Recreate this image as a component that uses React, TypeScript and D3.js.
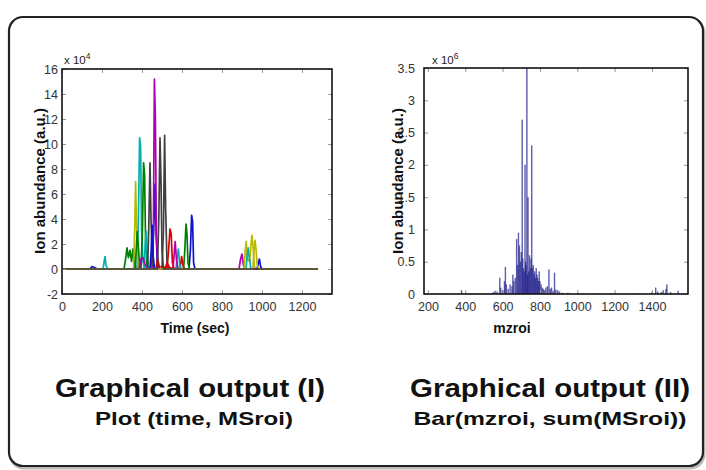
import React, { useEffect, useRef } from 'react'
import * as d3 from 'd3'

// MATLAB default line colour order
const colorOrder = ['#1010d0', '#008000', '#e00000', '#00b0b0', '#b000b0', '#b8b800', '#404040']

// chromatogram traces, [time (sec), abundance x1e4]
const traces: [number, number][][] = [
  [[0,0],[140,0],[150,0.2],[165,0.1],[175,0],[440,0],[452,0.8],[458,3.0],[465,6.8],[470,3.2],[476,0.6],[485,0],[1280,0]],
  [[0,0],[310,0],[318,0.8],[325,1.7],[332,0.9],[340,1.5],[348,0.6],[355,1.6],[362,0.4],[370,0],[1280,0]],
  [[0,0],[525,0],[533,1.5],[540,3.2],[546,2.8],[552,0.5],[560,0],[1280,0]],
  [[0,0],[375,0],[382,4],[388,10.5],[393,9.8],[398,3],[405,0.6],[412,0],[1280,0]],
  [[0,0],[450,0],[457,3],[462,15.2],[467,12],[472,2.5],[480,0.4],[490,0],[1280,0]],
  [[0,0],[358,0],[364,3.5],[368,7.0],[372,3.8],[378,0.5],[385,0],[1280,0]],
  [[0,0],[500,0],[507,3],[513,10.7],[518,5],[525,0.5],[535,0],[1280,0]],
  [[0,0],[635,0],[642,1.5],[648,4.3],[653,3.8],[658,0.5],[665,0],[1280,0]],
  [[0,0],[395,0],[402,3],[408,8.5],[413,7.5],[418,2],[425,0.3],[432,0],[1280,0]],
  [[0,0],[470,0],[478,0.8],[486,0.2],[590,0],[598,1.0],[606,0.2],[615,0],[1280,0]],
  [[0,0],[410,0],[416,2.0],[421,3.0],[426,1.0],[433,0],[570,0],[576,1.0],[582,1.6],[588,0.4],[595,0],[1280,0]],
  [[0,0],[555,0],[561,1.2],[566,2.2],[572,0.8],[580,0],[885,0],[893,0.8],[900,1.2],[907,0.3],[915,0],[1280,0]],
  [[0,0],[910,0],[916,1.4],[921,2.2],[926,0.8],[938,0.6],[945,2.0],[950,2.7],[955,1.8],[962,0.2],[970,0],[1280,0]],
  [[0,0],[428,0],[434,3.5],[440,8.5],[445,4],[452,0.5],[460,0],[1280,0]],
  [[0,0],[440,0],[446,1.5],[451,3.5],[456,1],[463,0],[975,0],[982,0.5],[987,0.8],[993,0.2],[1000,0],[1280,0]],
  [[0,0],[365,0],[371,1.5],[376,3.0],[381,2.0],[388,0.3],[395,0],[608,0],[614,1.5],[620,3.6],[625,2.8],[630,0.5],[637,0],[1280,0]],
  [[0,0],[515,0],[525,0.5],[535,0.2],[545,0],[1280,0]],
  [[0,0],[205,0],[210,0.5],[215,1.0],[220,0.3],[228,0],[920,0],[926,1.0],[931,1.7],[936,0.9],[945,0],[1280,0]],
  [[0,0],[385,0],[395,0.8],[405,0.9],[415,0.4],[425,0],[1280,0]],
  [[0,0],[955,0],[960,1.5],[965,2.3],[970,1.6],[976,0.3],[985,0],[1280,0]],
  [[0,0],[477,0],[484,4],[490,10.5],[495,7],[500,1.5],[507,0],[1280,0]],
]

// summed spectrum, m/z and abundance x1e6
const mzroi = [250,300,380,420,470,520,550,560,570,585,590,600,610,615,620,630,640,650,655,660,668,675,680,685,690,695,700,705,708,712,716,720,723,726,730,733,736,740,744,748,752,756,760,764,768,772,776,780,784,788,792,796,800,806,812,818,825,832,840,848,855,862,870,878,885,895,905,920,950,1000,1100,1200,1300,1400,1420,1430,1450,1460,1475,1480,1500,1540]
const sumMSroi = [0.01,0.01,0.06,0.01,0.01,0.01,0.03,0.05,0.04,0.25,0.1,0.06,0.2,0.42,0.15,0.08,0.15,0.12,0.3,0.2,0.25,0.85,0.45,0.95,0.75,0.5,0.65,2.7,0.55,0.4,0.35,2.0,0.5,0.45,3.5,0.3,1.5,0.35,0.6,0.4,0.55,2.3,0.4,0.45,0.3,0.35,0.25,0.4,0.3,0.25,0.2,0.35,0.2,0.15,0.1,0.08,0.06,0.1,0.12,0.38,0.08,0.1,0.05,0.33,0.07,0.06,0.04,0.02,0.02,0.01,0.01,0.01,0.01,0.03,0.1,0.04,0.03,0.06,0.08,0.15,0.03,0.05]

const timeTicks = [0,200,400,600,800,1000,1200]
const abTicks = [-2,0,2,4,6,8,10,12,14,16]
const mzTicks = [200,400,600,800,1000,1200,1400]
const sumTicks = [0,0.5,1,1.5,2,2.5,3,3.5]

const FONT = '"Liberation Sans", Arial, Helvetica, sans-serif'

const App = () => {
  const svgRef = useRef<SVGSVGElement>(null)

  useEffect(() => {
    const svg = d3.select(svgRef.current)
    svg.selectAll('*').remove()

    // frame
    svg.append('rect')
      .attr('x', 10).attr('y', 19).attr('width', 694).attr('height', 449)
      .attr('rx', 14).attr('fill', 'none').attr('stroke', '#bbb').attr('stroke-width', 3)
    svg.append('rect')
      .attr('x', 9).attr('y', 17).attr('width', 694).attr('height', 449)
      .attr('rx', 14).attr('fill', 'white').attr('stroke', '#222').attr('stroke-width', 2.2)

    const drawAxes = (g: any, x: any, y: any, xt: number[], yt: number[], ypad: number) => {
      const [x0, x1] = x.range()
      const [y0, y1] = y.range()
      const xa = g.append('g').attr('transform', `translate(0,${y0})`)
        .call(d3.axisBottom(x).tickValues(xt).tickSize(-4).tickPadding(8).tickFormat((d: any) => String(d)))
      const ya = g.append('g').attr('transform', `translate(${x0},0)`)
        .call(d3.axisLeft(y).tickValues(yt).tickSize(-4).tickPadding(ypad).tickFormat((d: any) => String(d)))
      // mirrored ticks
      g.append('g').attr('transform', `translate(0,${y1})`)
        .call(d3.axisTop(x).tickValues(xt).tickSize(-4).tickFormat(() => ''))
      g.append('g').attr('transform', `translate(${x1},0)`)
        .call(d3.axisRight(y).tickValues(yt).tickSize(-4).tickFormat(() => ''))
      g.selectAll('.domain').remove()
      g.selectAll('.tick line').attr('stroke', '#999')
      for (const a of [xa, ya]) {
        a.selectAll('text').attr('font-family', FONT).attr('font-size', 12.5).attr('fill', '#333')
      }
      g.append('rect').attr('x', x0).attr('y', y1).attr('width', x1 - x0).attr('height', y0 - y1)
        .attr('fill', 'none').attr('stroke', '#111').attr('stroke-width', 1.6)
    }

    // left: plot(time, MSroi)
    const xL = d3.scaleLinear().domain([0, 1350]).range([62, 332])
    const yL = d3.scaleLinear().domain([-2, 16]).range([294, 69])
    const gL = svg.append('g')
    svg.append('clipPath').attr('id', 'clipL').append('rect')
      .attr('x', 62).attr('y', 69).attr('width', 270).attr('height', 225)
    const line = d3.line<[number, number]>().x(d => xL(d[0])).y(d => yL(d[1]))
    gL.append('g').attr('clip-path', 'url(#clipL)')
      .selectAll('path').data(traces).join('path')
      .attr('d', d => line(d))
      .attr('fill', 'none')
      .attr('stroke', (_d, i) => colorOrder[i % colorOrder.length])
      .attr('stroke-width', 1.7)
      .attr('stroke-linejoin', 'round')
    drawAxes(gL, xL, yL, timeTicks, abTicks, 4)

    // right: bar(mzroi, sum(MSroi))
    const xR = d3.scaleLinear().domain([179, 1593]).range([424, 688])
    const yR = d3.scaleLinear().domain([0, 3.5]).range([294, 68])
    const gR = svg.append('g')
    gR.append('g').selectAll('rect').data(mzroi).join('rect')
      .attr('x', d => xR(d) - 0.7)
      .attr('width', 1.4)
      .attr('y', (_d, i) => yR(sumMSroi[i]))
      .attr('height', (_d, i) => yR(0) - yR(sumMSroi[i]))
      .attr('fill', '#1e1e8a')
      .attr('fill-opacity', 0.72)
    drawAxes(gR, xR, yR, mzTicks, sumTicks, 9)

    // exponent labels
    const expo = (x: number, p: string) => {
      const t = svg.append('text').attr('x', x).attr('y', 64)
        .attr('font-family', FONT).attr('font-size', 11.5).attr('fill', '#222')
      t.append('tspan').text('x 10')
      t.append('tspan').attr('dy', -5).attr('font-size', 8.5).text(p)
    }
    expo(64, '4')
    expo(432, '6')

    // axis titles
    const bold = (x: number, y: number, size: number, txt: string, rot = false) => {
      const t = svg.append('text').attr('font-family', FONT).attr('font-weight', 'bold')
        .attr('font-size', size).attr('text-anchor', 'middle').attr('fill', '#111').text(txt)
      if (rot) t.attr('transform', `translate(${x},${y}) rotate(-90)`)
      else t.attr('x', x).attr('y', y)
      return t
    }
    bold(45, 181, 15, 'Ion abundance (a.u.)', true)
    bold(403, 181, 15, 'Ion abundance (a.u.)', true)
    bold(195, 333, 14, 'Time (sec)')
    bold(512, 333, 14, 'mzroi')

    // captions
    bold(190, 397, 25, 'Graphical output (I)').attr('textLength', 270).attr('lengthAdjust', 'spacingAndGlyphs')
    bold(194, 425, 19, 'Plot (time, MSroi)').attr('textLength', 198).attr('lengthAdjust', 'spacingAndGlyphs')
    bold(550, 397, 25, 'Graphical output (II)').attr('textLength', 280).attr('lengthAdjust', 'spacingAndGlyphs')
    bold(550, 425, 19, 'Bar(mzroi, sum(MSroi))').attr('textLength', 273).attr('lengthAdjust', 'spacingAndGlyphs')
  }, [])

  return (
    <svg ref={svgRef} width={706} height={470}
      style={{ position: 'absolute', left: 0, top: 0, background: 'white' }} />
  )
}

export default App
